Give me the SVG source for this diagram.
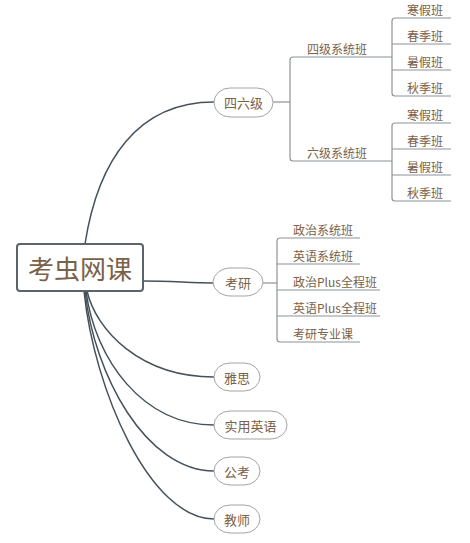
<svg xmlns="http://www.w3.org/2000/svg" width="470" height="543" viewBox="0 0 470 543">
<style>
.bg{fill:#ffffff}
.main{fill:none;stroke:#46525b;stroke-width:1.5}
.sub{fill:none;stroke:#8e9398;stroke-width:1.2}
.root{fill:#ffffff;stroke:#5b646b;stroke-width:2}
.node{fill:#ffffff;stroke:#a4a4a4;stroke-width:1}
text{font-family:"Noto Sans CJK SC","Noto Sans",sans-serif;fill:#7a6148}
.t1{font-size:26px;text-anchor:middle;dominant-baseline:central}
.t2{font-size:13px;text-anchor:middle;dominant-baseline:central}
.t3{font-size:12px}
</style>
<rect class="bg" x="0" y="0" width="470" height="543"/>
<g id="connectors">
<path class="main" d="M85,244 C98,160 138,102 214,102"/>
<path class="main" d="M143,281 C172,281 190,283 213,283"/>
<path class="main" d="M87,291 C96,330 140,377 214,377"/>
<path class="main" d="M86,291 C95,360 143,425 214,425"/>
<path class="main" d="M85,291 C94,375 146,471 214,471"/>
<path class="main" d="M84,291 C94,390 150,519 214,519"/>
<path class="sub" d="M273,102 H290"/>
<path class="sub" d="M392,57 H293 Q290,57 290,60 V158 Q290,161 293,161 H392"/>
<path class="sub" d="M451,18 H395 Q392,18 392,21 V93 Q392,96 395,96 H451"/>
<path class="sub" d="M392,44 H451 M392,70 H451"/>
<path class="sub" d="M451,123 H395 Q392,123 392,126 V198 Q392,201 395,201 H451"/>
<path class="sub" d="M392,149 H451 M392,175 H451"/>
<path class="sub" d="M263,283 H277"/>
<path class="sub" d="M360,238 H280 Q277,238 277,241 V339 Q277,342 280,342 H360"/>
<path class="sub" d="M277,264 H360 M277,290 H380 M277,316 H380"/>
</g>
<g id="root">
<rect class="root" x="17" y="244" width="126" height="47" rx="3"/>
<text class="t1" x="80" y="267">考虫网课</text>
</g>
<g id="n-46">
<rect class="node" x="214" y="88" width="59" height="29" rx="16" ry="14.5"/>
<text class="t2" x="243.5" y="102.5">四六级</text>
</g>
<g id="n-cet4">
<text class="t3" x="307" y="54">四级系统班</text>
</g>
<g id="n-cet4-1"><text class="t3" x="407" y="15">寒假班</text></g>
<g id="n-cet4-2"><text class="t3" x="407" y="41">春季班</text></g>
<g id="n-cet4-3"><text class="t3" x="407" y="67">暑假班</text></g>
<g id="n-cet4-4"><text class="t3" x="407" y="93">秋季班</text></g>
<g id="n-cet6">
<text class="t3" x="307" y="158">六级系统班</text>
</g>
<g id="n-cet6-1"><text class="t3" x="407" y="120">寒假班</text></g>
<g id="n-cet6-2"><text class="t3" x="407" y="146">春季班</text></g>
<g id="n-cet6-3"><text class="t3" x="407" y="172">暑假班</text></g>
<g id="n-cet6-4"><text class="t3" x="407" y="198">秋季班</text></g>
<g id="n-ky">
<rect class="node" x="213" y="268" width="50" height="28" rx="18" ry="14"/>
<text class="t2" x="238" y="282">考研</text>
</g>
<g id="n-ky-1"><text class="t3" x="293" y="235">政治系统班</text></g>
<g id="n-ky-2"><text class="t3" x="293" y="261">英语系统班</text></g>
<g id="n-ky-3"><text class="t3" x="293" y="287">政治Plus全程班</text></g>
<g id="n-ky-4"><text class="t3" x="293" y="313">英语Plus全程班</text></g>
<g id="n-ky-5"><text class="t3" x="293" y="339">考研专业课</text></g>
<g id="n-ys">
<rect class="node" x="214" y="363" width="46" height="28" rx="16" ry="14"/>
<text class="t2" x="237" y="377">雅思</text>
</g>
<g id="n-syyy">
<rect class="node" x="214" y="411" width="73" height="28" rx="16" ry="14"/>
<text class="t2" x="250.5" y="425">实用英语</text>
</g>
<g id="n-gk">
<rect class="node" x="214" y="457" width="46" height="28" rx="16" ry="14"/>
<text class="t2" x="237" y="471">公考</text>
</g>
<g id="n-js">
<rect class="node" x="214" y="505" width="46" height="28" rx="16" ry="14"/>
<text class="t2" x="237" y="519">教师</text>
</g>
</svg>
